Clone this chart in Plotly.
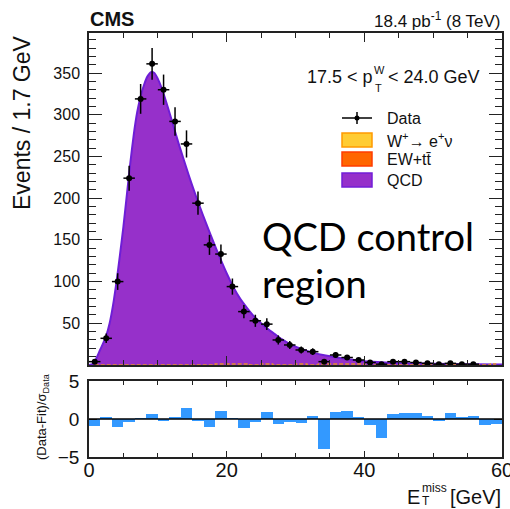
import math
import plotly.graph_objects as go

# ---------------- data ----------------
n_bins = 36
x_min, x_max = 0.0, 60.0
bin_width = (x_max - x_min) / n_bins
bin_centers = [x_min + (k + 0.5) * bin_width for k in range(n_bins)]

data_counts = [4, 32, 100, 224, 319, 361, 330, 292, 265, 194, 144, 133, 94, 64, 53, 49,
               30, 24, 18, 16, 4, 12, 9, 6, 3, 1, 4, 4, 3, 2, 1, 2, 1, 1, 0, 0]

pull_values = [-0.9, 0.17, -1.1, -0.45, 0.03, 0.6, -0.25, 0.15, 1.4, -0.25, -1.1, 1.1,
               0.03, -1.2, -0.45, 0.95, -0.6, -0.45, -0.55, 0.45, -3.9, 0.9, 1.05, 0.3,
               -0.8, -2.5, 0.6, 0.85, 0.75, 0.45, -0.25, 0.75, 0.3, 0.45, -0.85, -0.7]

w_enu = [0, 0, 0, 0, 0, 0, 0, 0, 0, 0, 0, 1.3, 1.3, 1.3, 0, 1.3, 0, 0, 1.3, 0,
         1.3, 1.3, 1.3, 1.3, 0, 0, 0, 0, 0, 0, 0, 0, 0, 0, 0, 1.3]

qcd_x = [0, 0.5, 1, 1.5, 2, 2.5, 3, 3.5, 4, 4.5, 5, 5.5, 6, 6.5, 7, 7.5, 8, 8.5, 9, 9.5,
         10, 10.5, 11, 12, 13, 14, 15, 16, 17, 18, 19, 20, 21, 22, 23, 24, 25, 26, 27,
         28, 29, 30, 32, 34, 36, 38, 40, 43, 46, 50, 55, 60]
qcd_y = [0, 1, 7, 16, 25, 35, 50, 72, 100, 132, 166, 204, 242, 276, 303, 322, 336, 346,
         351, 350, 343, 333, 321, 294, 266, 240, 215, 192, 170, 149, 129, 110, 93, 79,
         68, 58, 50, 43, 37, 31, 26, 22, 16, 12, 9, 6.5, 4.5, 3, 2, 1.4, 0.9, 0.6]

y_ticks_main = [50, 100, 150, 200, 250, 300, 350]
y_ticks_pull = [-5, 0, 5]
x_ticks = [0, 20, 40, 60]

# ---------------- layout geometry ----------------
W, H = 510, 509
ML, MR, MT, MB = 89, 8, 33, 52
PW = W - ML - MR
PH = H - MT - MB


def px(x):
    return (x - ML) / PW


def py(y):
    return (H - MB - y) / PH


main_bottom_px = 365
pull_top_px = 381

FONT = "Liberation Sans, Arial, sans-serif"
AX = "#222222"

fig = go.Figure()

# QCD fit curve
fig.add_trace(go.Scatter(
    x=qcd_x, y=qcd_y, mode="lines", line=dict(color="rgb(110,30,215)", width=2, shape="spline", smoothing=0.6),
    fill="tozeroy", fillcolor="rgb(150,48,202)", xaxis="x", yaxis="y", hoverinfo="skip"))

# W -> e nu (tiny)
fig.add_trace(go.Scatter(
    x=bin_centers, y=w_enu, mode="lines", line=dict(color="rgb(230,140,40)", width=1.5, shape="hvh", dash="4px,2px"),
    xaxis="x", yaxis="y", hoverinfo="skip"))

# Data points
mask = [c > 0 for c in data_counts]
dx = [bin_centers[i] for i in range(n_bins) if mask[i]]
dy = [data_counts[i] for i in range(n_bins) if mask[i]]
derr = [math.sqrt(c) for c in dy]
fig.add_trace(go.Scatter(
    x=dx, y=dy, mode="markers",
    marker=dict(color="black", size=6),
    error_y=dict(type="data", array=derr, color="black", thickness=1.5, width=0),
    error_x=dict(type="constant", value=bin_width / 2, color="black", thickness=1.5, width=0),
    xaxis="x", yaxis="y", hoverinfo="skip"))

# Pull bars
fig.add_trace(go.Bar(
    x=bin_centers, y=pull_values, width=bin_width, marker=dict(color="rgb(51,153,255)", line=dict(width=0)),
    xaxis="x2", yaxis="y2", hoverinfo="skip"))

axis_common = dict(showline=True, linecolor=AX, linewidth=1.5, mirror="allticks", ticks="inside",
                   tickcolor=AX, tickwidth=1.2, showgrid=False, zeroline=False, automargin=False)

fig.update_layout(
    width=W, height=H, margin=dict(l=ML, r=MR, t=MT, b=MB, autoexpand=False),
    paper_bgcolor="white", plot_bgcolor="white", showlegend=False, bargap=0,
    font=dict(family=FONT, color="#111"),
    xaxis=dict(domain=[0, 1], range=[x_min, x_max], anchor="y", showticklabels=False,
               tickvals=x_ticks, ticklen=9,
               minor=dict(dtick=5, ticks="inside", ticklen=5, tickcolor=AX, tickwidth=1.2),
               **axis_common),
    yaxis=dict(domain=[py(main_bottom_px), 1], range=[0, 398], anchor="x",
               tickvals=y_ticks_main, ticklen=13, tickfont=dict(size=16, family=FONT, color="#111"),
               ticklabelstandoff=4,
               minor=dict(dtick=10, ticks="inside", ticklen=7, tickcolor=AX, tickwidth=1.2),
               **axis_common),
    xaxis2=dict(domain=[0, 1], range=[x_min, x_max], anchor="y2", tickvals=x_ticks,
                ticktext=[str(v) for v in x_ticks], ticklen=6, ticklabelstandoff=-6,
                ticklabeloverflow="allow",
                tickfont=dict(size=20, family=FONT, color="#111"),
                minor=dict(dtick=5, ticks="inside", ticklen=4, tickcolor=AX, tickwidth=1.2),
                **axis_common),
    yaxis2=dict(domain=[0, py(pull_top_px)], range=[-5, 5], anchor="x2", tickvals=y_ticks_pull,
                ticklen=8, tickfont=dict(size=19, family=FONT, color="#111"), ticklabelstandoff=4,
                **axis_common),
)

shapes = []
# zero line in pull panel
shapes.append(dict(type="line", xref="x2 domain", yref="y2", x0=0, x1=1, y0=0, y1=0,
                   line=dict(color="black", width=1.5), layer="above"))
# legend: data symbol
shapes.append(dict(type="line", xref="paper", yref="paper", x0=px(342), x1=px(372), y0=py(118), y1=py(118),
                   line=dict(color="black", width=1.5)))
shapes.append(dict(type="line", xref="paper", yref="paper", x0=px(357), x1=px(357), y0=py(112), y1=py(124),
                   line=dict(color="black", width=1.5)))
shapes.append(dict(type="circle", xref="paper", yref="paper", x0=px(354.5), x1=px(359.5), y0=py(115.5), y1=py(120.5),
                   fillcolor="black", line=dict(color="black", width=0)))
# legend boxes
for (y0, y1, fc, lc) in [(133, 147, "rgb(255,204,51)", "rgb(255,153,0)"),
                         (152, 166, "rgb(255,102,0)", "rgb(255,60,0)"),
                         (173, 187, "rgb(150,48,202)", "rgb(115,30,215)")]:
    shapes.append(dict(type="rect", xref="paper", yref="paper", x0=px(342), x1=px(372), y0=py(y1), y1=py(y0),
                       fillcolor=fc, line=dict(color=lc, width=1.5)))
fig.update_layout(shapes=shapes)


def ann(text, x, y, size, xanchor="left", yanchor="middle", angle=0, family=FONT, color="#111"):
    return dict(text=text, x=px(x), y=py(y), xref="paper", yref="paper", showarrow=False,
                xanchor=xanchor, yanchor=yanchor, textangle=angle,
                font=dict(size=size, family=family, color=color))


annotations = [
    ann("<b>CMS</b>", 88, 19, 20),
    ann("18.4 pb<sup>-1</sup> (8 TeV)", 503, 20, 17, xanchor="right"),
    ann("17.5 &lt; p", 305, 77, 18),
    ann("W", 372, 70, 11),
    ann("T", 372.5, 88, 11),
    ann("&lt; 24.0 GeV", 386, 77, 18),
    ann("Data", 385, 118, 16),
    ann("W<sup>+</sup>→ e<sup>+</sup>ν", 385, 140, 16),
    ann("EW+tt\u0304", 385, 159, 16),
    ann("QCD", 385, 180, 16),
    ann("Events / 1.7 GeV", 22, 123, 23, xanchor="center", angle=-90),
    ann("(Data-Fit)/σ<sub>Data</sub>", 42, 417, 13, xanchor="center", angle=-90),
    ann("E", 422, 497, 20, xanchor="right"),
    ann("miss", 419.5, 488, 12),
    ann("T", 419.5, 501, 12),
    ann("[GeV]", 503, 497, 20, xanchor="right"),
    ann("QCD control", 260, 236, 38, family="Lato, sans-serif", color="black"),
    ann("region", 260, 283, 38, family="Lato, sans-serif", color="black"),
]
fig.update_layout(annotations=annotations)

fig.write_html("out.html", config={"displayModeBar": False},
               post_script="document.body.style.margin='0';document.body.style.padding='0';document.body.style.overflow='hidden';")
